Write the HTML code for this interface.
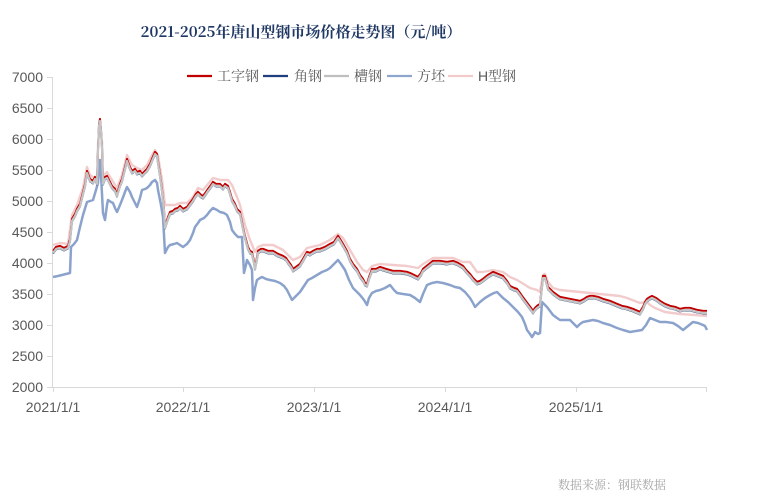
<!DOCTYPE html>
<html><head><meta charset="utf-8">
<style>
html,body{margin:0;padding:0;background:#fff;}
svg{display:block;}
</style></head>
<body>
<svg width="758" height="500" viewBox="0 0 758 500" xmlns="http://www.w3.org/2000/svg">
<rect width="758" height="500" fill="#fff"/>
<text x="301" y="37" text-anchor="middle" font-family="'Noto Serif CJK SC','Liberation Serif',serif" font-weight="bold" font-size="15" fill="#1f3864">2021-2025年唐山型钢市场价格走势图（元/吨）</text>

<!-- legend -->
<g font-family="'Noto Serif CJK SC','Liberation Serif',serif" font-size="14" fill="#595959">
<line x1="187" y1="76" x2="212" y2="76" stroke="#c00000" stroke-width="2.2"/>
<text x="217" y="81">工字钢</text>
<line x1="263" y1="76" x2="288" y2="76" stroke="#1f3f7f" stroke-width="2.2"/>
<text x="294" y="81">角钢</text>
<line x1="324" y1="76" x2="349" y2="76" stroke="#bfbfbf" stroke-width="2.2"/>
<text x="354" y="81">槽钢</text>
<line x1="387" y1="76" x2="412" y2="76" stroke="#8ea5cc" stroke-width="2.2"/>
<text x="417" y="81">方坯</text>
<line x1="448" y1="76" x2="473" y2="76" stroke="#f2cccc" stroke-width="2.2"/>
<text x="478" y="81" font-family="'Liberation Sans','Noto Serif CJK SC',sans-serif">H</text>
<text x="488" y="81">型钢</text>
</g>

<!-- axes -->
<g stroke="#d9d9d9" stroke-width="1">
<line x1="52.5" y1="77" x2="52.5" y2="387"/>
<line x1="52" y1="387.5" x2="707" y2="387.5"/>
<line x1="47" y1="77.5" x2="52" y2="77.5"/>
<line x1="47" y1="108.5" x2="52" y2="108.5"/>
<line x1="47" y1="139.5" x2="52" y2="139.5"/>
<line x1="47" y1="170.5" x2="52" y2="170.5"/>
<line x1="47" y1="201.5" x2="52" y2="201.5"/>
<line x1="47" y1="232.5" x2="52" y2="232.5"/>
<line x1="47" y1="263.5" x2="52" y2="263.5"/>
<line x1="47" y1="294.5" x2="52" y2="294.5"/>
<line x1="47" y1="325.5" x2="52" y2="325.5"/>
<line x1="47" y1="356.5" x2="52" y2="356.5"/>
<line x1="47" y1="387.5" x2="52" y2="387.5"/>
<line x1="53.5" y1="387" x2="53.5" y2="392"/>
<line x1="183.5" y1="387" x2="183.5" y2="392"/>
<line x1="314.5" y1="387" x2="314.5" y2="392"/>
<line x1="445.5" y1="387" x2="445.5" y2="392"/>
<line x1="576.5" y1="387" x2="576.5" y2="392"/>
<line x1="706.5" y1="387" x2="706.5" y2="392"/>
</g>
<g font-family="'Liberation Sans',sans-serif" font-size="14" fill="#595959" text-anchor="end">
<text x="43" y="82">7000</text>
<text x="43" y="113">6500</text>
<text x="43" y="144">6000</text>
<text x="43" y="175">5500</text>
<text x="43" y="206">5000</text>
<text x="43" y="237">4500</text>
<text x="43" y="268">4000</text>
<text x="43" y="299">3500</text>
<text x="43" y="330">3000</text>
<text x="43" y="361">2500</text>
<text x="43" y="392">2000</text>
</g>
<g font-family="'Liberation Sans',sans-serif" font-size="14" fill="#595959" text-anchor="middle">
<text x="53" y="412">2021/1/1</text>
<text x="183" y="412">2022/1/1</text>
<text x="314" y="412">2023/1/1</text>
<text x="445" y="412">2024/1/1</text>
<text x="576" y="412">2025/1/1</text>
</g>

<!-- 方坯 -->
<polyline fill="none" stroke="#8ba3cc" stroke-width="2.5" stroke-linejoin="round" points="53,277 58,276 62,275 66,274 70,273 71,247 74,244 77,240 80,227 83,215 87,202 90,201 93,200 96,190 98,183 99,170 100,160 101,175 103,213 105,220 107,205 108,200 111,202 113,203 115,208 117,212 120,205 122,200 125,192 127,187 130,192 132,197 135,203 137,207 140,198 142,190 145,189 147,188 150,185 152,182 155,180 157,183 158,190 161,205 163,217 164,235 165,253 168,247 170,245 174,244 177,243 180,245 183,247 187,244 190,240 193,233 195,227 198,223 200,220 204,218 207,215 210,211 213,208 217,210 220,212 224,213 227,215 230,222 232,230 235,234 238,237 242,237 243,255 244,273 246,265 247,260 250,265 252,270 253,300 255,288 257,280 260,278 262,277 266,279 270,280 275,281 280,283 284,286 287,290 290,296 292,300 296,296 300,292 304,286 308,280 312,278 317,275 322,272 327,270 330,268 333,265 336,262 338,260 341,264 345,270 349,280 353,288 357,292 360,295 364,300 367,305 369,298 372,293 376,291 380,290 385,288 390,285 394,290 397,293 403,294 410,295 415,298 420,302 423,294 427,285 432,283 437,282 443,283 450,285 455,287 460,288 465,292 470,298 473,303 475,307 478,304 480,302 485,298 490,295 494,293 497,292 500,295 503,298 508,302 513,307 518,312 522,317 525,324 527,330 530,334 532,337 534,334 535,332 538,334 540,333 542,302 544,304 547,307 550,311 553,315 557,318 560,320 565,320 570,320 574,324 577,327 580,324 583,322 588,321 593,320 598,321 603,323 610,325 617,328 623,330 630,332 636,331 642,330 646,325 650,318 655,320 660,322 666,322 673,323 678,326 683,330 688,326 693,322 698,323 703,325 705,326 707,330"/>

<!-- H型钢 -->
<polyline fill="none" stroke="#f2cccc" stroke-width="2.4" stroke-linejoin="round" points="53,245 60,243 68,244 72,215 77,205 83,188 87,167 90,175 93,177 97,178 98,145 100,125 102,142 103,176 107,172 112,180 117,188 122,175 127,155 132,165 137,168 142,170 147,165 152,155 155,150 158,156 162,180 165,205 170,205 175,205 180,203 187,203 193,197 198,188 203,190 208,184 213,178 220,180 228,180 232,185 237,197 240,205 245,225 250,240 255,252 258,247 263,245 273,245 283,250 293,260 300,257 307,248 320,245 330,240 338,234 343,238 350,250 357,262 363,270 367,272 372,266 380,264 393,265 407,266 418,268 423,264 433,258 453,258 463,262 470,262 477,272 483,272 493,270 503,272 510,277 517,280 522,283 530,288 537,290 540,292 543,275 545,274 548,282 553,288 560,290 580,292 600,294 620,296 627,298 640,303 645,302 647,302 650,305 655,308 665,312 680,314 695,315 707,316"/>

<g fill="none" stroke-width="1.9" stroke-linejoin="round">
<!-- 角钢 -->
<polyline transform="translate(0,1.5)" stroke="#1f3f7f" points="53,252 56,248 60,247 64,249 68,247 70,240 72,220 75,215 77,210 80,205 83,193 85,185 87,172 90,180 93,182 95,178 97,183 98,150 99,125 100,120 101,130 102,147 103,183 105,178 107,177 110,183 112,187 115,190 117,195 120,185 122,180 125,168 127,160 130,168 132,172 135,170 137,173 140,172 142,175 145,172 147,170 150,165 152,160 155,153 157,155 158,162 160,175 162,190 164,210 165,227 168,218 170,213 173,212 175,210 178,209 180,207 183,210 187,208 190,204 193,200 196,195 198,193 201,196 203,197 206,193 208,190 211,186 213,183 216,185 218,185 220,185 223,188 225,185 228,187 230,193 232,200 235,205 237,210 240,213 243,228 245,237 248,248 250,252 252,253 254,262 255,268 257,258 258,252 261,250 263,250 268,252 273,252 278,255 283,257 286,259 288,262 291,266 293,270 296,268 300,265 303,260 307,253 310,254 313,252 317,250 320,250 325,248 330,245 334,243 338,237 340,240 343,245 347,252 350,260 353,265 357,270 360,276 363,280 365,284 367,285 369,278 372,270 376,270 380,268 386,270 393,272 400,272 407,273 412,275 418,278 421,274 423,270 428,266 433,262 440,262 447,263 453,262 458,264 463,267 467,272 470,275 473,279 477,283 480,282 483,280 488,276 493,273 498,275 503,277 507,282 510,287 514,289 517,290 520,294 522,297 525,301 528,305 531,309 533,312 535,309 537,307 540,305 541,295 543,277 545,277 547,284 548,288 551,291 553,293 557,296 560,298 565,299 570,300 575,301 580,302 584,300 587,298 590,297 593,297 598,298 603,300 610,302 617,305 622,307 627,308 633,310 640,313 643,308 645,303 647,300 650,298 652,297 656,299 660,302 665,305 670,307 675,308 680,310 685,309 690,309 697,311 703,312 707,312"/>
<!-- 工字钢 -->
<polyline transform="translate(0,-1.2)" stroke="#c00000" points="53,252 56,248 60,247 64,249 68,247 70,240 72,220 75,215 77,210 80,205 83,193 85,185 87,172 90,180 93,182 95,178 97,183 98,150 99,125 100,120 101,130 102,147 103,183 105,178 107,177 110,183 112,187 115,190 117,195 120,185 122,180 125,168 127,160 130,168 132,172 135,170 137,173 140,172 142,175 145,172 147,170 150,165 152,160 155,153 157,155 158,162 160,175 162,190 164,210 165,227 168,218 170,213 173,212 175,210 178,209 180,207 183,210 187,208 190,204 193,200 196,195 198,193 201,196 203,197 206,193 208,190 211,186 213,183 216,185 218,185 220,185 223,188 225,185 228,187 230,193 232,200 235,205 237,210 240,213 243,228 245,237 248,248 250,252 252,253 254,262 255,268 257,258 258,252 261,250 263,250 268,252 273,252 278,255 283,257 286,259 288,262 291,266 293,270 296,268 300,265 303,260 307,253 310,254 313,252 317,250 320,250 325,248 330,245 334,243 338,237 340,240 343,245 347,252 350,260 353,265 357,270 360,276 363,280 365,284 367,285 369,278 372,270 376,270 380,268 386,270 393,272 400,272 407,273 412,275 418,278 421,274 423,270 428,266 433,262 440,262 447,263 453,262 458,264 463,267 467,272 470,275 473,279 477,283 480,282 483,280 488,276 493,273 498,275 503,277 507,282 510,287 514,289 517,290 520,294 522,297 525,301 528,305 531,309 533,312 535,309 537,307 540,305 541,295 543,277 545,277 547,284 548,288 551,291 553,293 557,296 560,298 565,299 570,300 575,301 580,302 584,300 587,298 590,297 593,297 598,298 603,300 610,302 617,305 622,307 627,308 633,310 640,313 643,308 645,303 647,300 650,298 652,297 656,299 660,302 665,305 670,307 675,308 680,310 685,309 690,309 697,311 703,312 707,312"/>
<!-- 槽钢 -->
<polyline transform="translate(0,1)" stroke="#c4c4c4" stroke-width="2.2" points="53,252 56,248 60,247 64,249 68,247 70,240 72,220 75,215 77,210 80,205 83,193 85,185 87,172 90,180 93,182 95,178 97,183 98,150 99,125 100,120 101,130 102,147 103,183 105,178 107,177 110,183 112,187 115,190 117,195 120,185 122,180 125,168 127,160 130,168 132,172 135,170 137,173 140,172 142,175 145,172 147,170 150,165 152,160 155,153 157,155 158,162 160,175 162,190 164,210 165,227 168,218 170,213 173,212 175,210 178,209 180,207 183,210 187,208 190,204 193,200 196,195 198,193 201,196 203,197 206,193 208,190 211,186 213,183 216,185 218,185 220,185 223,188 225,185 228,187 230,193 232,200 235,205 237,210 240,213 243,228 245,237 248,248 250,252 252,253 254,262 255,268 257,258 258,252 261,250 263,250 268,252 273,252 278,255 283,257 286,259 288,262 291,266 293,270 296,268 300,265 303,260 307,253 310,254 313,252 317,250 320,250 325,248 330,245 334,243 338,237 340,240 343,245 347,252 350,260 353,265 357,270 360,276 363,280 365,284 367,285 369,278 372,270 376,270 380,268 386,270 393,272 400,272 407,273 412,275 418,278 421,274 423,270 428,266 433,262 440,262 447,263 453,262 458,264 463,267 467,272 470,275 473,279 477,283 480,282 483,280 488,276 493,273 498,275 503,277 507,282 510,287 514,289 517,290 520,294 522,297 525,301 528,305 531,309 533,312 535,309 537,307 540,305 541,295 543,277 545,277 547,284 548,288 551,291 553,293 557,296 560,298 565,299 570,300 575,301 580,302 584,300 587,298 590,297 593,297 598,298 603,300 610,302 617,305 622,307 627,308 633,310 640,313 643,308 645,303 647,300 650,298 652,297 656,299 660,302 665,305 670,307 675,308 680,310 685,309 690,309 697,311 703,312 707,312"/>
</g>

<text x="558" y="489" font-family="'Noto Serif CJK SC','Liberation Serif',serif" font-size="12" fill="#a6a6a6">数据来源：钢联数据</text>
</svg>
</body></html>
